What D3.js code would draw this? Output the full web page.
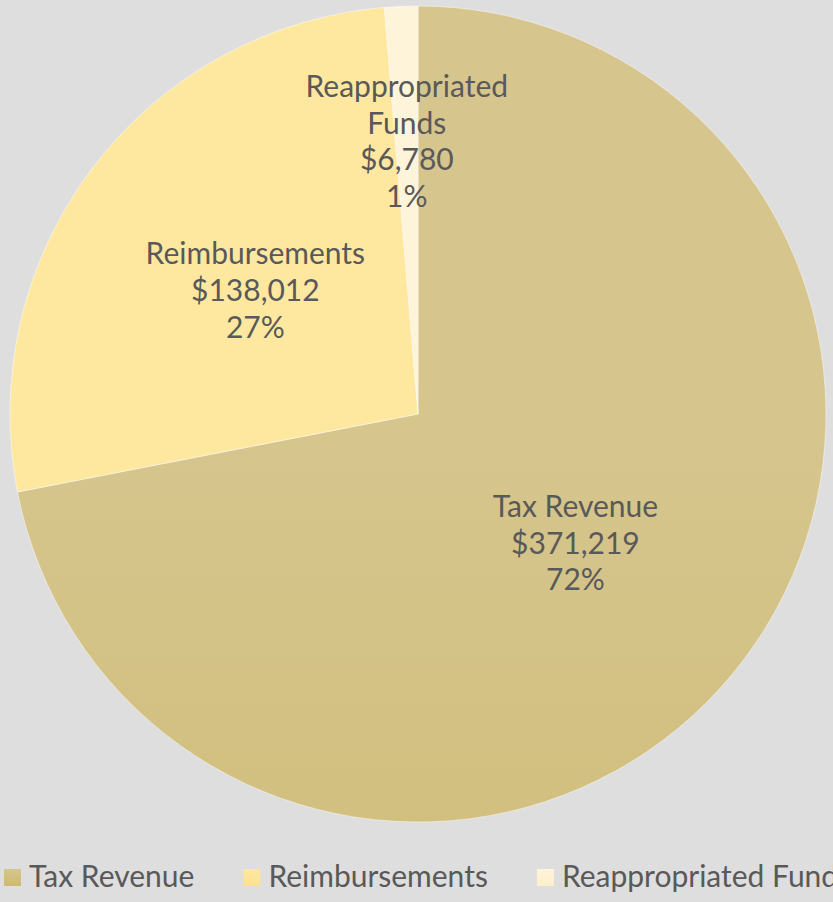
<!DOCTYPE html>
<html>
<head>
<meta charset="utf-8">
<script src="https://cdn.jsdelivr.net/npm/d3@7"></script>
<style>
  html, body { margin: 0; padding: 0; background: #dedede; }
  svg { display: block; }
  text { font-family: "Lato", "Open Sans", sans-serif; fill: #595959; }
</style>
</head>
<body>
<svg id="chart" width="833" height="902"></svg>
<script>
// Revenue sources
const categories = ["Tax Revenue", "Reimbursements", "Reappropriated Funds"];
const values = [371219, 138012, 6780];
const percentLabels = ["72%", "27%", "1%"];
// Data-label text lines (category name wraps for the small slice)
const labelNameLines = [["Tax Revenue"], ["Reimbursements"], ["Reappropriated", "Funds"]];
// Gradient stops per slice (top, bottom)
const colorsTop = ["#d6c68e", "#fee8a0", "#fef4da"];
const colorsBottom = ["#ceb971", "#fde190", "#feefca"];
// Where each label sits, as a fraction of the radius
const labelRadius = [0.5, 0.5, 0.667];

const W = 833, H = 902;
const cx = 418, cy = 414, R = 408;
const fontSize = 30, lineH = 36.7;

const svg = d3.select("#chart");
svg.append("rect").attr("width", W).attr("height", H).attr("fill", "#dedede");

const defs = svg.append("defs");
categories.forEach((c, i) => {
  const g = defs.append("linearGradient")
    .attr("id", "pieGrad" + i)
    .attr("gradientUnits", "userSpaceOnUse")
    .attr("x1", 0).attr("x2", 0)
    .attr("y1", cy - R).attr("y2", cy + R);
  g.append("stop").attr("offset", 0).attr("stop-color", colorsTop[i]);
  g.append("stop").attr("offset", 1).attr("stop-color", colorsBottom[i]);
  const s = defs.append("linearGradient")
    .attr("id", "swGrad" + i)
    .attr("x1", 0).attr("x2", 0).attr("y1", 0).attr("y2", 1);
  s.append("stop").attr("offset", 0).attr("stop-color", colorsTop[i]);
  s.append("stop").attr("offset", 1).attr("stop-color", colorsBottom[i]);
});

const pie = d3.pie().sort(null).value(d => d)(values);
const arc = d3.arc().innerRadius(0).outerRadius(R);

const g = svg.append("g").attr("transform", `translate(${cx},${cy})`);
g.selectAll("path.slice")
  .data(pie)
  .join("path")
  .attr("class", "slice")
  .attr("d", arc)
  .attr("fill", (d, i) => `url(#pieGrad${i})`)
  .attr("stroke", "#ffffff")
  .attr("stroke-opacity", 0.45)
  .attr("stroke-width", 1);

const fmt = d3.format("$,");
pie.forEach((d, i) => {
  const la = d3.arc().innerRadius(R * labelRadius[i]).outerRadius(R * labelRadius[i]);
  const [lx, ly] = la.centroid(d);
  const lines = [...labelNameLines[i], fmt(values[i]), percentLabels[i]];
  const n = lines.length;
  const t = g.append("text")
    .attr("text-anchor", "middle")
    .attr("font-size", fontSize);
  lines.forEach((ln, k) => {
    t.append("tspan")
      .attr("x", lx)
      .attr("y", ly + (k - (n - 1) / 2) * lineH + 10)
      .text(ln);
  });
});

// Legend laid out left to right along the bottom
const legend = svg.append("g");
let x = 4;
const sw = 17, legendY = 869;
categories.forEach((c, i) => {
  legend.append("rect")
    .attr("x", x).attr("y", legendY)
    .attr("width", sw).attr("height", sw)
    .attr("fill", `url(#swGrad${i})`);
  const t = legend.append("text")
    .attr("x", x + sw + 8)
    .attr("y", legendY + 18)
    .attr("font-size", fontSize)
    .text(c);
  x += sw + 8 + t.node().getComputedTextLength() + 49;
});
</script>
</body>
</html>
